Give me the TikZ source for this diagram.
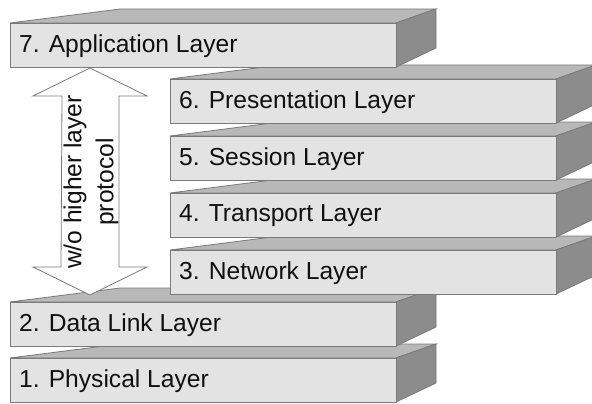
\documentclass[tikz,border=0pt]{standalone}
\usepackage{fontspec}
\setmainfont{Liberation Sans}
\definecolor{frontcol}{HTML}{E3E3E3}
\definecolor{topcol}{HTML}{B8B8B8}
\definecolor{sidecol}{HTML}{8C8C8C}
\definecolor{edgecol}{HTML}{7A7A7A}
\definecolor{txtcol}{HTML}{101010}
\tikzset{
  facebox/.style={draw=edgecol, line width=0.8pt, line join=miter},
  frontface/.style={facebox, fill=frontcol, minimum width=386pt, minimum height=44pt,
    inner sep=0pt, outer sep=0pt, anchor=north west},
  layertext/.style={anchor=west, inner sep=0pt, text=txtcol,
    font=\fontsize{24.6}{28}\selectfont},
  arrowtext/.style={rotate=90, align=center, text=txtcol, inner sep=0pt,
    font=\fontsize{24.6}{32}\selectfont}
}
% #1 = x of front left, #2 = y of front top (downwards), #3 = name, #4 = text
\newcommand\osilayer[4]{%
  \filldraw[facebox, fill=topcol] (#1,-#2) -- (#1+110,-#2+14) -- (#1+426,-#2+14) -- (#1+386,-#2) -- cycle;
  \filldraw[facebox, fill=sidecol] (#1+386,-#2) -- (#1+426,-#2+14) -- (#1+426,-#2-25) -- (#1+386,-#2-44) -- cycle;
  \node[frontface] (#3) at (#1,-#2) {};
  \node[layertext] (#3t) at ([xshift=9pt,yshift=-1pt]#3.west) {#4};
}
\begin{document}
\begin{tikzpicture}[x=1pt,y=1pt]
  \useasboundingbox (0,0) rectangle (592,-404);
  \clip (0,0) rectangle (592,-404);
  \fill[white] (0,0) rectangle (592,-404);
  \osilayer{10}{358}{l1}{1. Physical Layer}
  \osilayer{10}{302}{l2}{2. Data Link Layer}
  \osilayer{170}{250}{l3}{3. Network Layer}
  \osilayer{170}{193}{l4}{4. Transport Layer}
  \osilayer{170}{136}{l5}{5. Session Layer}
  \osilayer{170}{79}{l6}{6. Presentation Layer}
  \osilayer{10}{23}{l7}{7. Application Layer}
  % double arrow
  \coordinate (atop) at (90,-68);
  \coordinate (abot) at (90,-295);
  \filldraw[draw=edgecol, line width=0.8pt, fill=white]
    (atop) -- ++(57,-28) -- ++(-28,0) -- (119,-267) -- ++(28,0) -- (abot)
    -- ++(-57,28) -- ++(28,0) -- (62,-96) -- ++(-29,0) -- cycle;
  \node[arrowtext] (atext) at (91,-182) {w/o higher layer\\protocol};
\end{tikzpicture}
\end{document}
